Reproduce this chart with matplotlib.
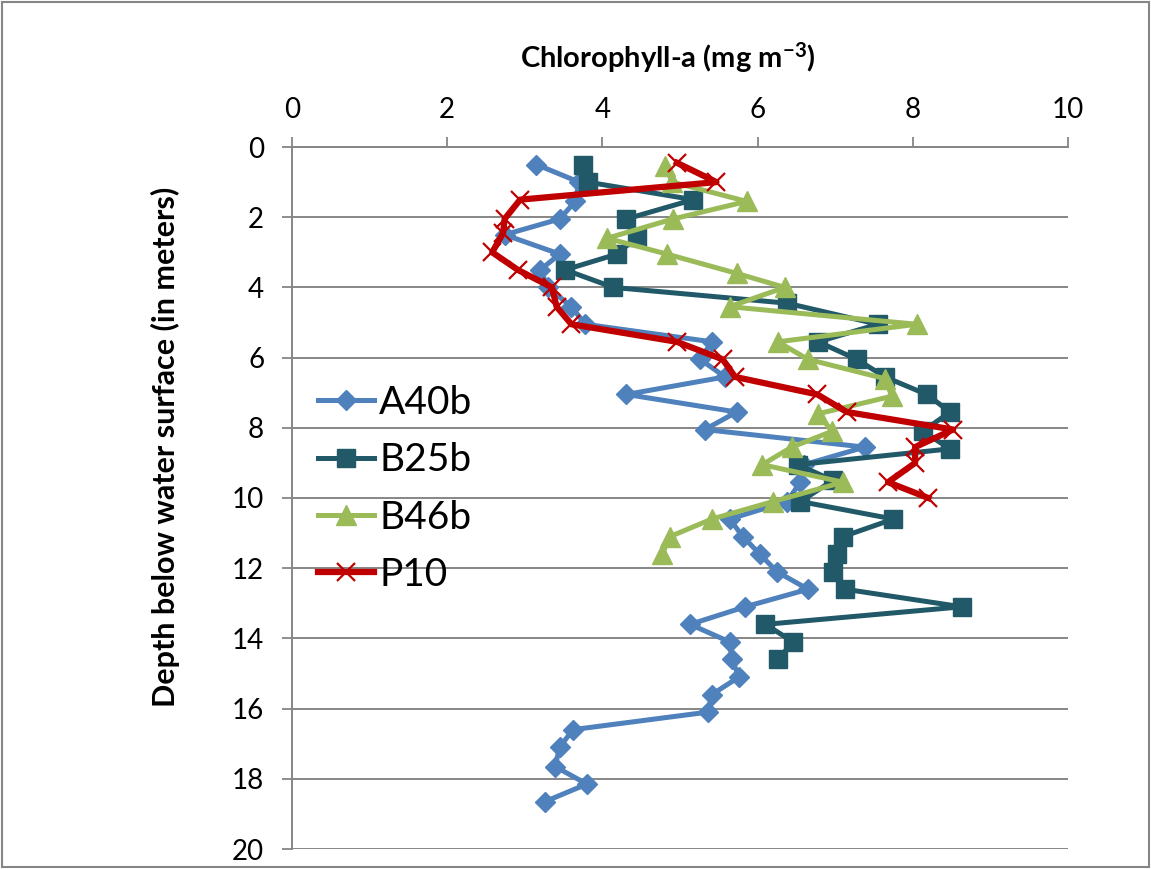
import matplotlib
matplotlib.use('Agg')
import matplotlib.pyplot as plt
from matplotlib.patches import Rectangle

plt.rcParams['font.family'] = ['Lato', 'DejaVu Sans']
plt.rcParams['mathtext.fontset'] = 'custom'
plt.rcParams['mathtext.rm'] = 'Lato:bold'
plt.rcParams['mathtext.default'] = 'rm'

# chlorophyll-a profiles, depth (m) vs concentration (mg m-3)
depth_a40b = [0.5, 1.0, 1.55, 2.05, 2.5, 3.05, 3.5, 4.0, 4.55, 5.05, 5.55, 6.05, 6.55,
              7.05, 7.55, 8.05, 8.55, 9.05, 9.55, 10.1, 10.6, 11.1, 11.6, 12.1, 12.6,
              13.1, 13.6, 14.1, 14.6, 15.1, 15.6, 16.1, 16.6, 17.1, 17.65, 18.15, 18.65]
chl_a40b = [3.15, 3.7, 3.65, 3.45, 2.74, 3.45, 3.2, 3.3, 3.6, 3.78, 5.41, 5.26, 5.58,
            4.31, 5.73, 5.32, 7.38, 6.6, 6.55, 6.38, 5.64, 5.81, 6.03, 6.25, 6.65,
            5.84, 5.13, 5.64, 5.67, 5.76, 5.41, 5.36, 3.62, 3.45, 3.39, 3.80, 3.26]

depth_b25b = [0.5, 1.0, 1.5, 2.05, 2.55, 3.05, 3.5, 4.0, 4.45, 5.05, 5.55, 6.05, 6.55,
              7.05, 7.55, 8.1, 8.6, 9.05, 9.5, 10.1, 10.6, 11.1, 11.6, 12.1, 12.6,
              13.1, 13.6, 14.1, 14.6]
chl_b25b = [3.75, 3.81, 5.17, 4.31, 4.45, 4.19, 3.52, 4.14, 6.38, 7.55, 6.78, 7.28, 7.64,
            8.18, 8.48, 8.13, 8.48, 6.52, 6.97, 6.55, 7.75, 7.1, 7.02, 6.97, 7.13,
            8.63, 6.1, 6.46, 6.26]

depth_b46b = [0.55, 1.0, 1.55, 2.05, 2.6, 3.05, 3.6, 4.0, 4.55, 5.05, 5.55, 6.05, 6.6,
              7.1, 7.6, 8.1, 8.55, 9.05, 9.55, 10.1, 10.6, 11.1, 11.6]
chl_b46b = [4.81, 4.9, 5.86, 4.91, 4.06, 4.83, 5.73, 6.35, 5.64, 8.05, 6.26, 6.65, 7.64,
            7.73, 6.78, 6.96, 6.44, 6.06, 7.1, 6.2, 5.41, 4.87, 4.77]

depth_p10 = [0.45, 1.0, 1.5, 2.05, 2.45, 3.0, 3.5, 4.0, 4.55, 5.05, 5.55, 6.05, 6.55,
             7.05, 7.55, 8.05, 8.55, 9.0, 9.55, 10.0]
chl_p10 = [4.96, 5.47, 2.94, 2.74, 2.72, 2.58, 2.91, 3.35, 3.41, 3.6, 4.96, 5.55, 5.71,
           6.77, 7.15, 8.52, 8.03, 8.03, 7.68, 8.2]

fig = plt.figure(figsize=(11.51, 8.69), dpi=100)
ax = fig.add_axes([292/1151, 1-849/869, (1068-292)/1151, (849-147)/869])

ax.plot(chl_a40b, depth_a40b, color='#4F81BD', lw=3.6, marker='D', ms=10.5,
        label='A40b', zorder=3)
ax.plot(chl_b25b, depth_b25b, color='#215968', lw=3.6, marker='s', ms=12.5,
        label='B25b', zorder=4)
ax.plot(chl_b46b, depth_b46b, color='#9BBB59', lw=3.6, marker='^', ms=15,
        label='B46b', zorder=5)
ax.plot(chl_p10, depth_p10, color='#C00000', lw=4.5, marker='x', ms=13, mew=1.6,
        label='P10', zorder=6)

ax.set_xlim(0, 10)
ax.set_ylim(20, 0)
ax.set_xticks(range(0, 11, 2))
ax.set_yticks(range(0, 21, 2))
ax.xaxis.tick_top()
ax.tick_params(axis='both', labelsize=20, color='#868686', width=1.3, length=7,
               direction='out')
ax.tick_params(axis='x', pad=10)
ax.tick_params(axis='y', pad=13)
ax.yaxis.grid(True, color='#868686', lw=1.4)
ax.set_axisbelow(True)
for side in ['right', 'bottom']:
    ax.spines[side].set_visible(False)
for side in ['top', 'left']:
    ax.spines[side].set_color('#868686')
    ax.spines[side].set_linewidth(1.4)
ax.spines['top'].set_zorder(1)

fig.text(668/1151, 1-58/869, r'Chlorophyll-a (mg m$^{-3}$)', fontsize=21,
         fontweight='bold', ha='center', va='center')
fig.text(165/1151, 1-447/869, 'Depth below water surface (in meters)', fontsize=22,
         fontweight='bold', rotation=90, ha='center', va='center')

fig.legend(loc='center left', bbox_to_anchor=(318/1151, 1-489/869), frameon=False,
           fontsize=28, handlelength=1.45, handletextpad=0.12, labelspacing=0.55,
           borderpad=0, borderaxespad=0)

fig.patches.append(Rectangle((0.002, 0.002), 0.996, 0.996, transform=fig.transFigure,
                             fill=False, edgecolor='#868686', lw=1.5))

fig.savefig('out.png', dpi=100)
